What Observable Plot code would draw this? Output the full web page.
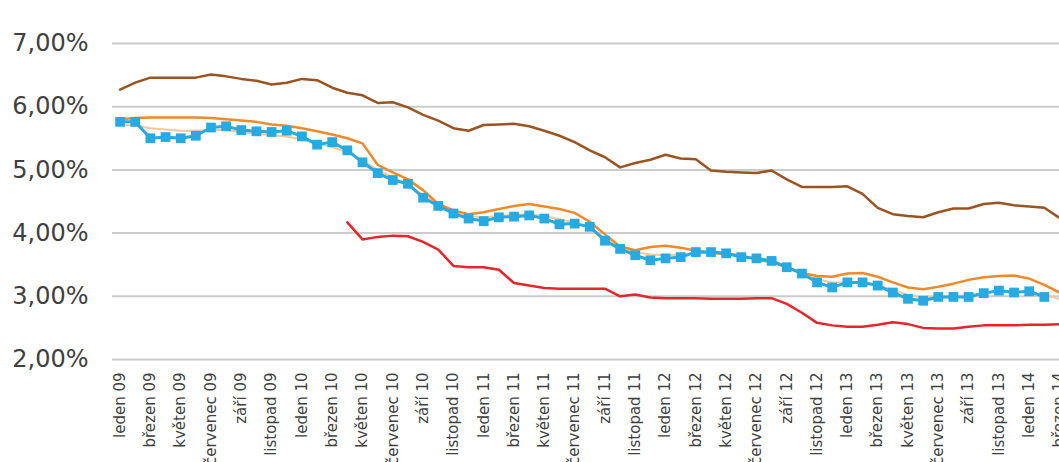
<!DOCTYPE html>
<html><head><meta charset="utf-8">
<script src="https://cdn.jsdelivr.net/npm/d3@7"></script>
<script src="https://cdn.jsdelivr.net/npm/@observablehq/plot@0.6"></script>
<style>
body{margin:0;background:#fff;overflow:hidden}
svg{display:block}
</style>
</head><body><div id="chart"></div>
<script>
const tickLabels = [
  "leden 09","březen 09","květen 09","červenec 09","září 09","listopad 09",
  "leden 10","březen 10","květen 10","červenec 10","září 10","listopad 10",
  "leden 11","březen 11","květen 11","červenec 11","září 11","listopad 11",
  "leden 12","březen 12","květen 12","červenec 12","září 12","listopad 12",
  "leden 13","březen 13","květen 13","červenec 13","září 13","listopad 13",
  "leden 14","březen 14"
];
const yTicks = [2, 3, 4, 5, 6, 7];

// monthly values from leden 09 (index 0) to březen 14 (index 62), in %
const brown = [6.27,6.38,6.46,6.46,6.46,6.46,6.51,6.48,6.44,6.41,6.35,6.38,6.44,6.42,6.30,6.22,6.18,6.06,6.07,5.99,
  5.87,5.78,5.66,5.62,5.71,5.72,5.73,5.69,5.62,5.54,5.44,5.31,5.20,5.04,5.11,5.16,5.24,5.18,5.17,4.99,
  4.97,4.96,4.95,4.99,4.85,4.73,4.73,4.73,4.74,4.62,4.40,4.30,4.27,4.25,4.33,4.39,4.39,4.46,4.48,4.44,
  4.42,4.40,4.24];
const orange = [5.80,5.82,5.83,5.83,5.83,5.83,5.82,5.80,5.78,5.76,5.72,5.70,5.66,5.61,5.56,5.50,5.42,5.08,4.96,4.85,
  4.68,4.46,4.36,4.30,4.33,4.38,4.43,4.46,4.42,4.38,4.32,4.18,3.98,3.79,3.73,3.78,3.80,3.77,3.72,3.69,
  3.67,3.65,3.58,3.54,3.46,3.37,3.32,3.31,3.36,3.37,3.31,3.22,3.14,3.11,3.15,3.20,3.26,3.30,3.32,3.33,
  3.28,3.18,3.06];
const pale = [5.72,5.70,5.66,5.64,5.62,5.62,5.63,5.63,5.60,5.57,5.55,5.53,5.48,5.42,5.36,5.28,5.15,5.00,4.88,4.76,
  4.60,4.45,4.33,4.27,4.25,4.27,4.29,4.30,4.27,4.22,4.17,4.08,3.92,3.78,3.70,3.66,3.65,3.66,3.68,3.68,
  3.66,3.63,3.60,3.55,3.46,3.36,3.27,3.22,3.22,3.22,3.18,3.10,3.02,2.98,2.98,3.00,3.02,3.05,3.07,3.08,
  3.06,3.02,2.96];
const blue = [5.76,5.76,5.50,5.52,5.50,5.54,5.67,5.69,5.63,5.61,5.60,5.62,5.53,5.40,5.44,5.31,5.12,4.95,4.84,4.78,
  4.56,4.43,4.31,4.23,4.19,4.25,4.26,4.28,4.23,4.14,4.15,4.10,3.88,3.75,3.65,3.57,3.60,3.62,3.70,3.70,
  3.68,3.62,3.60,3.56,3.46,3.36,3.22,3.14,3.22,3.22,3.17,3.06,2.96,2.93,2.99,2.99,2.99,3.05,3.09,3.06,
  3.08,2.99,null];
const red = [null,null,null,null,null,null,null,null,null,null,null,null,null,null,null,4.17,3.90,3.94,3.96,3.95,
  3.86,3.74,3.48,3.46,3.46,3.42,3.21,3.17,3.13,3.12,3.12,3.12,3.12,3.00,3.03,2.98,2.97,2.97,2.97,2.96,
  2.96,2.96,2.97,2.97,2.88,2.74,2.58,2.54,2.52,2.52,2.55,2.59,2.56,2.50,2.49,2.49,2.52,2.54,2.54,2.54,
  2.55,2.55,2.56];

const tickIdx = tickLabels.map((_, k) => k * 2);
const X = (d, i) => i;
const Y = d => d;

const plot = Plot.plot({
  width: 1059, height: 462,
  marginLeft: 112, marginRight: 0, marginTop: 43, marginBottom: 103,
  style: {fontFamily: "DejaVu Sans, Verdana, sans-serif", background: "#fff", overflow: "hidden"},
  x: {type: "linear", domain: [-0.5, 62], axis: null},
  y: {domain: [2, 7], axis: null},
  marks: [
    Plot.ruleY(yTicks, {stroke: "#cccccc", strokeWidth: 2}),
    Plot.axisY(yTicks, {tickSize: 0, tickPadding: 24, fontSize: 24,
      tickFormat: d => d.toFixed(2).replace(".", ",") + "%"}),
    Plot.axisX(tickIdx, {tickSize: 0, tickPadding: 13, tickRotate: -90, fontSize: 15,
      tickFormat: d => tickLabels[d / 2]}),
    Plot.line(pale, {x: X, y: Y, stroke: "#f6c79c", strokeWidth: 2}),
    Plot.line(orange, {x: X, y: Y, stroke: "#ee8a2c", strokeWidth: 2.5}),
    Plot.line(brown, {x: X, y: Y, stroke: "#9a5422", strokeWidth: 2.5}),
    Plot.line(red, {x: X, y: Y, stroke: "#e5262a", strokeWidth: 2.5}),
    Plot.line(blue, {x: X, y: Y, stroke: "#27a9e1", strokeWidth: 3}),
    Plot.dot(blue, {x: X, y: Y, symbol: "square", r: 5.5, fill: "#27a9e1", stroke: "none"})
  ]
});
d3.select(plot).selectAll('g[aria-label="y-axis tick label"], g[aria-label="x-axis tick label"]')
  .attr("fill", "#404040");
document.getElementById("chart").appendChild(plot);
</script>
</body></html>
